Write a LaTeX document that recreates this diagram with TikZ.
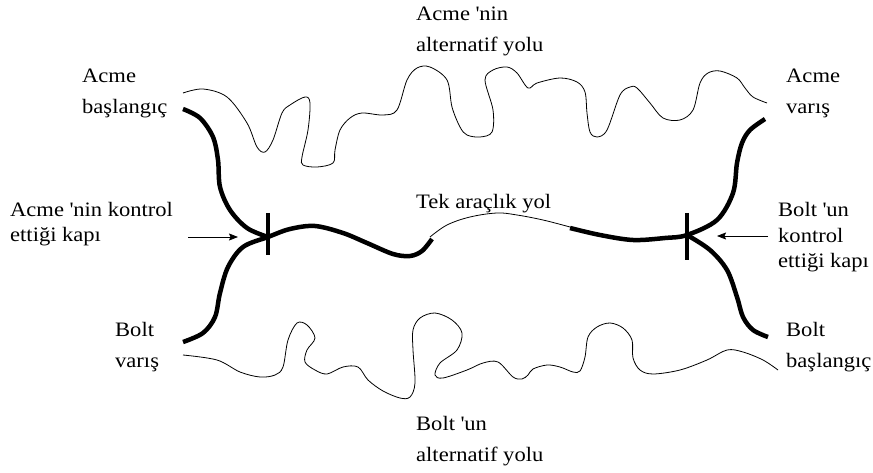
\documentclass[tikz,border=0pt]{standalone}
\usepackage{fontspec}
\setmainfont{Liberation Serif}[FakeStretch=1.1]
\usetikzlibrary{arrows.meta}
\newcommand{\lines}[1]{\begin{tabular}[t]{@{}l@{}}#1\end{tabular}}
\begin{document}
\begin{tikzpicture}[x=1pt,y=-1pt,
  thickp/.style={line width=4.5pt, line cap=butt},
  thinp/.style={line width=0.8pt},
  gatebar/.style={line width=4pt},
  lbl/.style={anchor=base west, inner sep=0pt, font=\fontsize{20.5}{31}\selectfont},
  glbl/.style={anchor=base west, inner sep=0pt, font=\fontsize{20.5}{24.5}\selectfont},
  arr/.style={-{Stealth[length=9pt,width=7pt,inset=1.5pt]}, line width=0.8pt}]
\useasboundingbox (0,0) rectangle (873,473);

% labels
\node[lbl] (topalt) at (416,21) {\lines{Acme \textquotesingle nin\\alternatif yolu}};
\node[lbl] (acmestart) at (82,83) {\lines{Acme\\başlangıç}};
\node[lbl] (acmeend) at (786,83) {\lines{Acme\\varış}};
\node[glbl] (acmegate) at (10,217) {\lines{Acme \textquotesingle nin kontrol\\ettiği kapı}};
\node[lbl] (tek) at (416,209) {Tek araçlık yol};
\node[glbl, font=\fontsize{20.5}{25.5}\selectfont] (boltgate) at (778,217) {\lines{Bolt \textquotesingle un\\kontrol\\ettiği kapı}};
\node[lbl] (boltend) at (115,336) {\lines{Bolt\\varış}};
\node[lbl] (boltstart) at (786,336) {\lines{Bolt\\başlangıç}};
\node[lbl] (botalt) at (416,430) {\lines{Bolt \textquotesingle un\\alternatif yolu}};

% gates
\coordinate (gL) at (268,237);
\coordinate (gR) at (687,235);
\draw[gatebar] (268,213) -- (268,255);
\draw[gatebar] (687,213) -- (687,260);

% thick paths
\draw[thickp] plot[smooth, tension=0.55] coordinates {(183,109) (200,118) (213,137) (218,160) (220,187) (230,210) (247,228) (gL)};
\draw[thickp] plot[smooth, tension=0.55] coordinates {(183,342) (203,333) (215,317) (220,293) (228,267) (243,247) (gL) (290,229) (315,226) (343,233) (367,243) (393,254) (410,256) (422,251) (432,239)};
\draw[thickp] plot[smooth, tension=0.55] coordinates {(570,228) (600,235) (633,240) (665,238) (gR) (717,220) (733,193) (737,163) (742,143) (750,130) (765,119)};
\draw[thickp] plot[smooth, tension=0.55] coordinates {(gR) (710,250) (727,270) (737,297) (743,317) (753,330) (768,337)};

% single-vehicle road (thin)
\draw[thinp] plot[smooth, tension=0.6] coordinates {(430,237) (447,225) (470,217) (497,213) (517,215) (543,220) (570,227)};

% Acme alternative path
\draw[thinp] plot[smooth, tension=0.55] coordinates {(183,93) (203,89) (227,97) (247,123) (257,147) (265,152) (273,140) (282,113) (290,105) (305,97) (310,103) (308,130) (302,157) (303,165) (317,167) (333,163) (335,150) (340,130) (350,118) (362,113) (383,115) (397,110) (407,80) (417,68) (430,67) (447,80) (452,107) (460,127) (467,135) (480,137) (492,132) (493,110) (485,80) (493,70) (507,67) (517,73) (528,88) (537,83) (560,78) (577,82) (585,92) (587,113) (590,132) (597,137) (607,130) (620,95) (630,87) (637,88) (650,103) (663,118) (680,120) (693,110) (700,83) (708,73) (720,71) (737,78) (745,88) (753,97) (767,103)};

% Bolt alternative path
\draw[thinp] plot[smooth, tension=0.55] coordinates {(183,355) (217,360) (240,372) (260,377) (275,375) (283,367) (288,340) (297,323) (307,325) (315,338) (307,350) (305,362) (315,370) (327,374) (343,367) (358,367) (368,380) (383,391) (400,398) (410,397) (415,383) (413,350) (413,330) (420,318) (435,313) (452,320) (462,333) (457,350) (440,363) (435,375) (443,378) (467,370) (483,363) (498,362) (513,377) (522,379) (528,375) (533,369) (547,365) (560,367) (573,372) (580,371) (585,357) (588,337) (597,327) (610,323) (623,328) (632,340) (633,358) (640,370) (653,374) (680,370) (707,360) (727,350) (743,352) (763,360) (778,370)};

% arrows to gates
\coordinate (aLs) at (188,237);
\coordinate (aLe) at (238,237);
\coordinate (aRs) at (768,236);
\coordinate (aRe) at (717,236);
\draw[arr] (aLs) -- (aLe);
\draw[arr] (aRs) -- (aRe);
\end{tikzpicture}
\end{document}
